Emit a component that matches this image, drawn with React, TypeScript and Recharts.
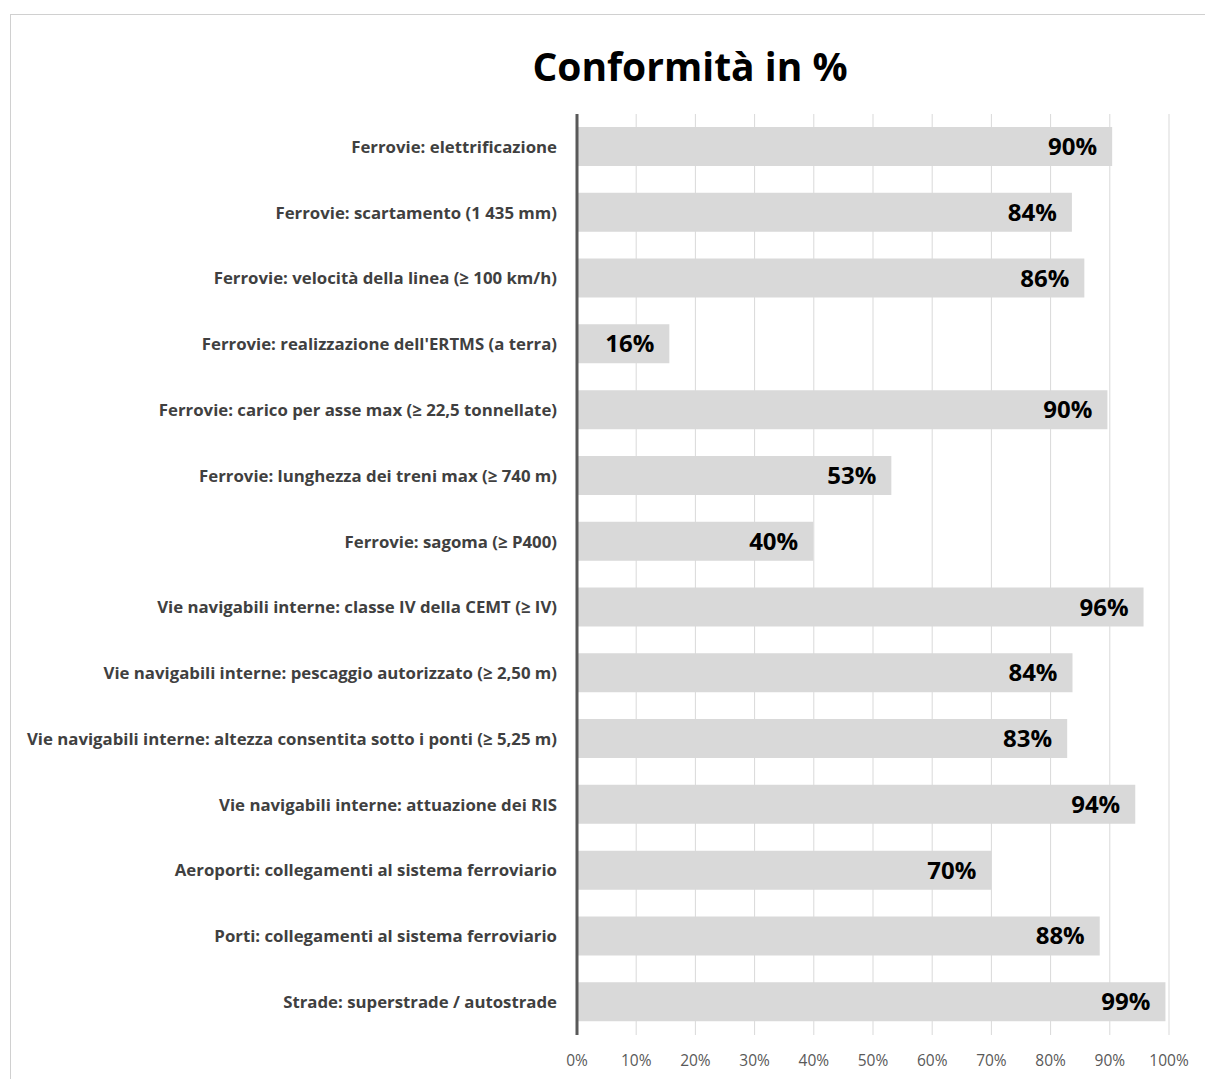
import React from 'react';
import { BarChart, Bar, XAxis, YAxis, CartesianGrid, LabelList } from 'recharts';

const categories = [
  'Ferrovie: elettrificazione ',
  'Ferrovie: scartamento (1 435 mm)',
  'Ferrovie: velocità della linea (≥ 100 km/h)',
  "Ferrovie: realizzazione dell'ERTMS (a terra)",
  'Ferrovie: carico per asse max (≥ 22,5 tonnellate)',
  'Ferrovie: lunghezza dei treni max (≥ 740 m)',
  'Ferrovie: sagoma (≥ P400)',
  'Vie navigabili interne: classe IV della CEMT (≥ IV)',
  'Vie navigabili interne: pescaggio autorizzato (≥ 2,50 m)',
  'Vie navigabili interne: altezza consentita sotto i ponti (≥ 5,25 m)',
  'Vie navigabili interne: attuazione dei RIS',
  'Aeroporti: collegamenti al sistema ferroviario ',
  'Porti: collegamenti al sistema ferroviario',
  'Strade: superstrade / autostrade',
];

const conformity = [90.4, 83.6, 85.7, 15.6, 89.6, 53.1, 39.9, 95.7, 83.7, 82.8, 94.3, 70.0, 88.3, 99.4];

const xTicks = [0, 10, 20, 30, 40, 50, 60, 70, 80, 90, 100];

const chartData = categories.map((name, i) => ({ name, value: conformity[i] }));

const App: React.FC = () => {
  return (
    <div style={{ position: 'absolute', left: 0, top: 0, width: 1205, height: 1079, overflow: 'hidden', background: '#fff', fontFamily: '"Open Sans", sans-serif' }}>
      {/* chart frame, runs off the right and bottom edges */}
      <div style={{ position: 'absolute', left: 10, top: 14, width: 1400, height: 1200, border: '1px solid #d0d0d0' }} />
      <div style={{ position: 'absolute', left: 390, top: 39, width: 600, textAlign: 'center', fontSize: 39, lineHeight: '54px', fontWeight: 700, color: '#000' }}>
        Conformità in %
      </div>
      <div style={{ position: 'absolute', left: 0, top: 0 }}>
        <BarChart
          layout="vertical"
          width={1205}
          height={1079}
          data={chartData}
          margin={{ top: 114, right: 36, left: 0, bottom: 0 }}
          barSize={39}
          style={{ fontFamily: '"Open Sans", sans-serif' }}
        >
          <CartesianGrid horizontal={false} stroke="#d9d9d9" />
          <XAxis
            type="number"
            domain={[0, 100]}
            ticks={xTicks}
            tickFormatter={(v: number) => `${v}%`}
            axisLine={false}
            tickLine={false}
            tickSize={0}
            tickMargin={20}
            height={44}
            interval={0}
            tick={{ fill: '#595959', fontSize: 15.5 }}
          />
          <YAxis
            type="category"
            dataKey="name"
            width={577}
            axisLine={{ stroke: '#595959', strokeWidth: 3 }}
            tickLine={false}
            tickSize={0}
            tickMargin={20}
            interval={0}
            tick={{ fill: '#404040', fontSize: 16.8, fontWeight: 700 }}
          />
          <Bar dataKey="value" fill="#d9d9d9" isAnimationActive={false}>
            <LabelList
              dataKey="value"
              position="insideRight"
              offset={15}
              formatter={(v: number) => `${Math.round(v)}%`}
              style={{ fill: '#000', fontSize: 24, fontWeight: 700 }}
            />
          </Bar>
        </BarChart>
      </div>
    </div>
  );
};

export default App;
